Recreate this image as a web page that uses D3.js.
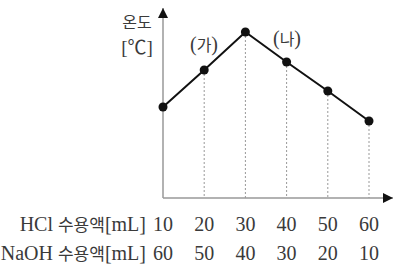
<!DOCTYPE html>
<html>
<head>
<meta charset="utf-8">
<script src="https://cdn.jsdelivr.net/npm/d3@7"></script>
<style>
  body { margin: 0; background: #fff; }
  text { font-family: "Liberation Serif", "Noto Sans CJK KR", serif; fill: #3a3a3a; }
  .ko { font-family: "Noto Sans CJK KR", sans-serif; font-weight: 400; }
</style>
</head>
<body>
<div id="chart"></div>
<script>
// data (temperature has no scale, relative units)
const hcl = [10, 20, 30, 40, 50, 60];
const naoh = [60, 50, 40, 30, 20, 10];
const temp = [91, 128, 166, 136, 107, 77];
const tags = ["가", "나"];

const width = 402, height = 267;
const origin = { x: 163, y: 198 };

const svg = d3.select("#chart").append("svg")
    .attr("width", width)
    .attr("height", height);

const xScale = d3.scaleLinear().domain([10, 60]).range([163, 369]);
const yScale = d3.scaleLinear().domain([0, 188]).range([origin.y, 10]);

// arrow heads
svg.append("defs").append("marker")
    .attr("id", "arrow")
    .attr("viewBox", "0 0 10 10")
    .attr("refX", 10).attr("refY", 5)
    .attr("markerWidth", 10).attr("markerHeight", 10)
    .attr("markerUnits", "userSpaceOnUse")
    .attr("orient", "auto")
    .append("path")
    .attr("d", "M0,0 L10,5 L0,10 Z")
    .attr("fill", "#111");

// dotted drop lines
svg.selectAll(".drop")
    .data(hcl.slice(1))
    .join("line")
    .attr("x1", d => xScale(d)).attr("x2", d => xScale(d))
    .attr("y1", (d, i) => yScale(temp[i + 1]))
    .attr("y2", origin.y)
    .attr("stroke", "#999")
    .attr("stroke-width", 1)
    .attr("stroke-dasharray", "2,2");

// axes
svg.append("line")
    .attr("x1", origin.x).attr("y1", origin.y)
    .attr("x2", origin.x).attr("y2", 8)
    .attr("stroke", "#999").attr("stroke-width", 1.5)
    .attr("marker-end", "url(#arrow)");
svg.append("line")
    .attr("x1", origin.x).attr("y1", origin.y)
    .attr("x2", 393).attr("y2", origin.y)
    .attr("stroke", "#999").attr("stroke-width", 1.5)
    .attr("marker-end", "url(#arrow)");

// temperature line
const line = d3.line()
    .x((d, i) => xScale(hcl[i]))
    .y(d => yScale(d));

svg.append("path")
    .datum(temp)
    .attr("d", line)
    .attr("fill", "none")
    .attr("stroke", "#111")
    .attr("stroke-width", 2);

svg.selectAll(".pt")
    .data(temp)
    .join("circle")
    .attr("cx", (d, i) => xScale(hcl[i]))
    .attr("cy", d => yScale(d))
    .attr("r", 4.5)
    .attr("fill", "#111");

// (가), (나)
const tagPos = [{ x: 204, y: 51 }, { x: 287, y: 45 }];
svg.selectAll(".tag")
    .data(tags)
    .join("text")
    .attr("x", (d, i) => tagPos[i].x)
    .attr("y", (d, i) => tagPos[i].y)
    .attr("text-anchor", "middle")
    .attr("font-size", 20)
    .each(function (d) {
        const t = d3.select(this);
        t.append("tspan").text("(");
        t.append("tspan").attr("class", "ko").attr("font-size", 16).text(d);
        t.append("tspan").text(")");
    });

// y axis title
svg.append("text")
    .attr("class", "ko")
    .attr("x", 137).attr("y", 28)
    .attr("text-anchor", "middle")
    .attr("font-size", 16)
    .text("온도");
svg.append("text")
    .attr("x", 137).attr("y", 54)
    .attr("text-anchor", "middle")
    .attr("font-size", 19)
    .text("[℃]");

// bottom tables
const rowLabel = (y, name) => {
    const t = svg.append("text")
        .attr("x", 146).attr("y", y)
        .attr("text-anchor", "end")
        .attr("font-size", 20);
    t.append("tspan").text(name + " ");
    t.append("tspan").attr("class", "ko").attr("font-size", 17).text("수용액");
    t.append("tspan").text("[mL]");
};
rowLabel(231, "HCl");
rowLabel(260, "NaOH");

svg.selectAll(".hcl")
    .data(hcl)
    .join("text")
    .attr("x", d => xScale(d))
    .attr("y", 231)
    .attr("text-anchor", "middle")
    .attr("font-size", 20)
    .text(d => d);

svg.selectAll(".naoh")
    .data(naoh)
    .join("text")
    .attr("x", (d, i) => xScale(hcl[i]))
    .attr("y", 260)
    .attr("text-anchor", "middle")
    .attr("font-size", 20)
    .text(d => d);
</script>
</body>
</html>
